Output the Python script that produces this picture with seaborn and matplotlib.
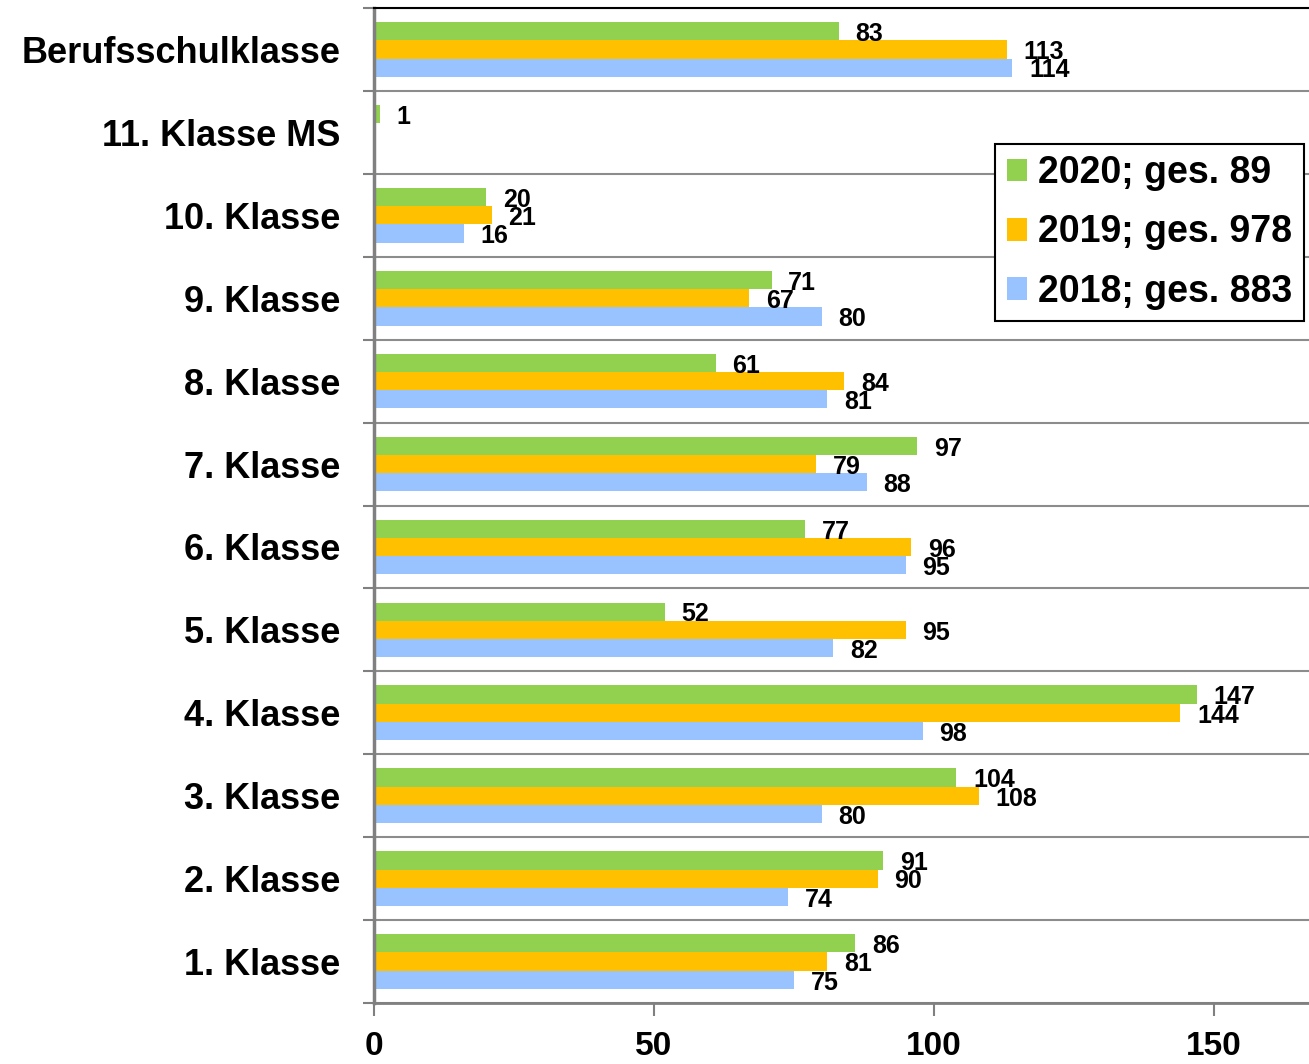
import numpy as np
import pandas as pd
import matplotlib
matplotlib.use("Agg")
import matplotlib.pyplot as plt
from matplotlib.patches import Patch
import seaborn as sns

# ── data ────────────────────────────────────────────────
klassen = ['Berufsschulklasse', '11. Klasse MS', '10. Klasse', '9. Klasse',
           '8. Klasse', '7. Klasse', '6. Klasse', '5. Klasse', '4. Klasse',
           '3. Klasse', '2. Klasse', '1. Klasse']
werte_2020 = [83, 1, 20, 71, 61, 97, 77, 52, 147, 104, 91, 86]
werte_2019 = [113, np.nan, 21, 67, 84, 79, 96, 95, 144, 108, 90, 81]
werte_2018 = [114, np.nan, 16, 80, 81, 88, 95, 82, 98, 80, 74, 75]
serien = ['2020; ges. 89', '2019; ges. 978', '2018; ges. 883']
farben = ['#92D050', '#FFC000', '#99C3FF']

df = pd.DataFrame({
    'klasse': klassen * 3,
    'serie': [serien[0]] * 12 + [serien[1]] * 12 + [serien[2]] * 12,
    'wert': werte_2020 + werte_2019 + werte_2018,
})

# ── plot ────────────────────────────────────────────────
sns.set_style('white')
plt.rcParams['font.family'] = ['Liberation Sans', 'DejaVu Sans']
plt.rcParams['font.weight'] = 'bold'
plt.rcParams['text.color'] = 'black'
plt.rcParams['xtick.labelcolor'] = 'black'
plt.rcParams['ytick.labelcolor'] = 'black'

fig = plt.figure(figsize=(13.09, 10.64), dpi=100)
ax = fig.add_axes([0.2857, 0.0573, 0.7143, 0.9352])

sns.barplot(data=df, x='wert', y='klasse', hue='serie', order=klassen,
            hue_order=serien, palette=farben, orient='h', width=0.66,
            errorbar=None, linewidth=0, saturation=1, ax=ax, legend=False)

for cont in ax.containers:
    anns = ax.bar_label(cont, fmt='%.0f', padding=12, fontsize=18,
                        fontweight='bold', color='black')
    for a in anns:
        a.xyann = (12, -2)

ax.set_xlim(0, 167)
ax.set_ylim(11.5, -0.5)
ax.set_xlabel('')
ax.set_ylabel('')

ax.set_xticks([0, 50, 100, 150])
ax.tick_params(axis='x', direction='out', length=9, width=1.5, color='#808080',
               labelsize=24, pad=11, bottom=True, labelcolor='black')
ax.tick_params(axis='y', which='major', length=0, pad=24, labelsize=26,
               labelcolor='black')
ax.set_yticks(np.arange(-0.5, 12, 1), minor=True)
ax.tick_params(axis='y', which='minor', direction='out', length=8, width=1.5,
               color='#808080', left=True)
for lbl in ax.get_xticklabels() + ax.get_yticklabels():
    lbl.set_fontweight('bold')

ax.grid(False)
ax.grid(axis='y', which='minor', color='#8c8c8c', linewidth=1.5)
ax.set_axisbelow(True)

ax.spines['left'].set_color('#808080')
ax.spines['left'].set_linewidth(2.5)
ax.spines['bottom'].set_color('#808080')
ax.spines['bottom'].set_linewidth(2)
ax.spines['top'].set_color('black')
ax.spines['top'].set_linewidth(1.5)
ax.spines['right'].set_visible(False)

handles = [Patch(facecolor=c, edgecolor='none') for c in farben]
leg = ax.legend(handles, serien, loc='upper right',
                bbox_to_anchor=(1304 / 1309, 1 - 144 / 1064),
                bbox_transform=fig.transFigure, borderaxespad=0,
                frameon=True, fancybox=False, shadow=False,
                prop={'size': 27, 'weight': 'bold'},
                handlelength=0.55, handleheight=0.55, handletextpad=0.3,
                labelspacing=0.62, borderpad=0.3)
leg.get_frame().set_edgecolor('black')
leg.get_frame().set_linewidth(1.5)
leg.get_frame().set_alpha(1)
for t in leg.get_texts():
    t.set_color('black')

plt.savefig('out.png', dpi=100)
